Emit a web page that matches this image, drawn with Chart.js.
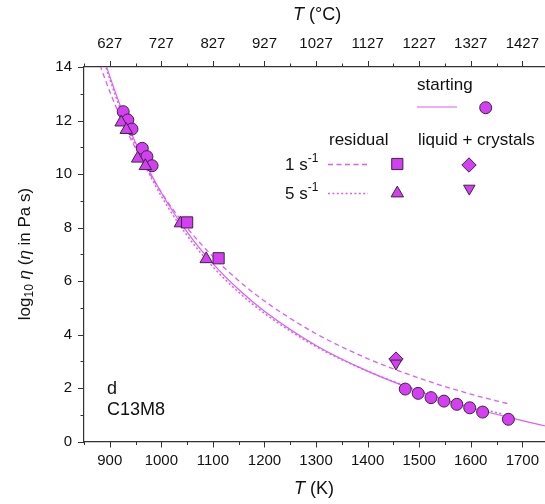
<!DOCTYPE html>
<html>
<head>
<meta charset="utf-8">
<script src="https://cdn.jsdelivr.net/npm/chart.js@4.4.1/dist/chart.umd.min.js"></script>
<style>
  html, body { margin: 0; padding: 0; background: #fff; overflow: hidden; }
  canvas { display: block; }
</style>
</head>
<body>
<canvas id="c" width="553" height="504" style="width:553px;height:504px"></canvas>
<script>
// ---- data: temperature in K, viscosity as log10(eta / Pa s) ----
const startT   = [926, 935, 943, 963, 972, 982, 1473, 1498, 1523, 1548, 1573, 1598, 1623, 1673];
const startLog = [12.33, 12.02, 11.68, 10.96, 10.65, 10.31, 1.96, 1.80, 1.64, 1.51, 1.39, 1.26, 1.10, 0.83];

const res1T   = [1050, 1111];               // residual liquid, 1 s^-1
const res1Log = [8.19, 6.85];
const res5T   = [922, 932, 954, 969, 1037, 1087];   // residual liquid, 5 s^-1
const res5Log = [11.93, 11.65, 10.58, 10.30, 8.16, 6.82];

const lc1T   = [1455];                      // liquid + crystals, 1 s^-1
const lc1Log = [3.08];
const lc5T   = [1455];                      // liquid + crystals, 5 s^-1
const lc5Log = [2.92];

// fitted viscosity curves
const fitStartT   = [885, 900, 925, 950, 1000, 1050, 1100, 1150, 1200, 1300, 1400, 1500, 1600, 1700, 1750];
const fitStartLog = [14.55, 13.65, 12.32, 11.17, 9.30, 7.83, 6.65, 5.68, 4.87, 3.59, 2.63, 1.87, 1.27, 0.78, 0.56];
const fit1T   = [870, 900, 925, 950, 1000, 1050, 1100, 1150, 1200, 1300, 1400, 1500, 1600, 1675];
const fit1Log = [14.67, 13.08, 11.95, 10.96, 9.31, 7.99, 6.91, 6.01, 5.25, 4.03, 3.10, 2.37, 1.77, 1.40];
const fit5T   = [885, 900, 925, 950, 1000, 1050, 1100, 1150, 1200, 1300, 1400, 1500, 1600, 1660];
const fit5Log = [14.45, 13.55, 12.20, 11.05, 9.17, 7.70, 6.53, 5.58, 4.79, 3.55, 2.63, 1.90, 1.32, 1.03];

// axes
const kTicks   = [900, 1000, 1100, 1200, 1300, 1400, 1500, 1600, 1700];
const kMinor   = [850, 950, 1050, 1150, 1250, 1350, 1450, 1550, 1650, 1750];
const logTicks = [0, 2, 4, 6, 8, 10, 12, 14];
const logMinor = [1, 3, 5, 7, 9, 11, 13];

// ---- styling ----
const FF = '"Liberation Sans", Arial, Helvetica, sans-serif';
const FILL = '#d43ff2';
const EDGE = '#3a2640';
const LINE = '#da5ef8';
const AXIS = '#333333';
const TXT = '#111111';
const DASH = [5, 3.5];
const DOT = [2, 2.4];

const pts = (xs, ys) => xs.map((x, i) => ({ x: x, y: ys[i] }));

function marker(data, style, radius, order, rotation) {
  return {
    type: 'scatter', data: data, xAxisID: 'x', yAxisID: 'y',
    pointStyle: style, pointRadius: radius, pointRotation: rotation || 0,
    backgroundColor: FILL, borderColor: EDGE, borderWidth: 1,
    pointHoverRadius: radius, order: order
  };
}
function curve(data, dash, width) {
  return {
    type: 'line', data: data, xAxisID: 'x', yAxisID: 'y',
    showLine: true, fill: false, pointRadius: 0, borderColor: LINE, borderWidth: width,
    borderDash: dash, cubicInterpolationMode: 'monotone', order: 10
  };
}

const MARK = {
  circle: { pointStyle: 'circle', radius: 6, rotation: 0 },
  square: { pointStyle: 'rect', radius: 7.9, rotation: 0 },
  tri:    { pointStyle: 'triangle', radius: 7.2, rotation: 0 },
  diam:   { pointStyle: 'rectRot', radius: 7.2, rotation: 0 },
  down:   { pointStyle: 'triangle', radius: 6.6, rotation: 180 }
};

function drawMark(ctx, m, x, y) {
  ctx.save();
  ctx.fillStyle = FILL; ctx.strokeStyle = EDGE; ctx.lineWidth = 1;
  Chart.helpers.drawPoint(ctx, { pointStyle: m.pointStyle, radius: m.radius, rotation: m.rotation, borderWidth: 1 }, x, y);
  ctx.restore();
}

// rich text: pieces of {t, font, dy}
function richWidth(ctx, pieces) {
  let w = 0;
  pieces.forEach(p => { ctx.font = p.font; w += ctx.measureText(p.t).width; });
  return w;
}
function drawRich(ctx, pieces, x, y) {
  let cx = x;
  pieces.forEach(p => {
    ctx.font = p.font;
    ctx.fillText(p.t, cx, y + (p.dy || 0));
    cx += ctx.measureText(p.t).width;
  });
}

const decor = {
  id: 'decor',
  afterDraw(chart) {
    const { ctx, chartArea: a, scales } = chart;
    const sx = scales.x, sy = scales.y;
    ctx.save();

    // tick marks (major + minor)
    ctx.strokeStyle = AXIS; ctx.lineWidth = 1;
    ctx.beginPath();
    const xt = (v, len) => {
      const px = Math.round(sx.getPixelForValue(v)) + 0.5;
      ctx.moveTo(px, a.bottom); ctx.lineTo(px, a.bottom + len);
      ctx.moveTo(px, a.top); ctx.lineTo(px, a.top - len);
    };
    kTicks.forEach(v => xt(v, 6));
    kMinor.forEach(v => xt(v, 3.5));
    const yt = (v, len) => {
      const py = Math.round(sy.getPixelForValue(v)) + 0.5;
      ctx.moveTo(a.left, py); ctx.lineTo(a.left - len, py);
    };
    logTicks.forEach(v => yt(v, 6));
    logMinor.forEach(v => yt(v, 3.5));
    ctx.stroke();

    ctx.fillStyle = TXT;
    ctx.textBaseline = 'middle';
    ctx.textAlign = 'left';
    const cxArea = (a.left + a.right) / 2;

    // axis titles
    const big = `18px ${FF}`, bigI = `italic 18px ${FF}`;
    const bottomT = [{ t: 'T', font: bigI }, { t: ' (K)', font: big }];
    drawRich(ctx, bottomT, cxArea - richWidth(ctx, bottomT) / 2 - 2, 489);
    const topT = [{ t: 'T', font: bigI }, { t: ' (°C)', font: big }];
    drawRich(ctx, topT, cxArea - richWidth(ctx, topT) / 2 + 1, 15);

    const f17 = `17px ${FF}`, f17i = `italic 17px ${FF}`, f12 = `12px ${FF}`;
    const yTitle = [
      { t: 'log', font: f17 }, { t: '10', font: f12, dy: 5 }, { t: ' ', font: f17 },
      { t: 'η', font: f17i }, { t: ' (', font: f17 }, { t: 'η', font: f17i },
      { t: ' in Pa s)', font: f17 }
    ];
    ctx.save();
    ctx.translate(25, 254);
    ctx.rotate(-Math.PI / 2);
    drawRich(ctx, yTitle, -richWidth(ctx, yTitle) / 2, 0);
    ctx.restore();

    // sample labels
    ctx.font = `18px ${FF}`;
    ctx.fillText('d', 107, 389);
    ctx.fillText('C13M8', 107, 410);

    // key
    ctx.font = f17;
    ctx.fillText('starting', 417, 85);
    ctx.fillText('residual', 329, 140);
    ctx.fillText('liquid + crystals', 418, 140);
    drawRich(ctx, [{ t: '1 s', font: f17 }, { t: '-1', font: f12, dy: -6 }], 285, 165);
    drawRich(ctx, [{ t: '5 s', font: f17 }, { t: '-1', font: f12, dy: -6 }], 285, 194);

    ctx.strokeStyle = LINE;
    const seg = (x1, x2, y, dash, w) => {
      ctx.lineWidth = w;
      ctx.setLineDash(dash); ctx.beginPath(); ctx.moveTo(x1, y); ctx.lineTo(x2, y); ctx.stroke();
    };
    seg(417, 457, 107, [], 1.2);
    seg(328, 368, 164.5, DASH, 1.3);
    seg(328, 368, 193.5, DOT, 1.5);
    ctx.setLineDash([]);

    drawMark(ctx, MARK.circle, 485.7, 107.7);
    drawMark(ctx, MARK.square, 397.3, 164);
    drawMark(ctx, MARK.diam, 469, 165);
    drawMark(ctx, MARK.tri, 397.3, 193.3);
    drawMark(ctx, MARK.down, 469.3, 188.5);

    ctx.restore();
  }
};

const tickFont = { family: FF, size: 15 };

new Chart(document.getElementById('c'), {
  type: 'scatter',
  data: {
    datasets: [
      curve(pts(fitStartT, fitStartLog), [], 1.2),
      curve(pts(fit1T, fit1Log), DASH, 1.3),
      curve(pts(fit5T, fit5Log), DOT, 1.5),
      marker(pts(startT, startLog), MARK.circle.pointStyle, MARK.circle.radius, 3),
      marker(pts(res5T, res5Log), MARK.tri.pointStyle, MARK.tri.radius, 2),
      marker(pts(res1T, res1Log), MARK.square.pointStyle, MARK.square.radius, 1),
      marker(pts(lc1T, lc1Log), MARK.diam.pointStyle, MARK.diam.radius, 5),
      marker(pts(lc5T, lc5Log), MARK.down.pointStyle, MARK.down.radius, 4, 180)
    ]
  },
  options: {
    responsive: false,
    devicePixelRatio: 1,
    animation: false,
    events: [],
    layout: { padding: 0, autoPadding: false },
    plugins: { legend: { display: false }, tooltip: { enabled: false } },
    scales: {
      x: {
        type: 'linear', position: 'bottom', min: 850, max: 1750,
        afterBuildTicks: s => { s.ticks = kTicks.map(v => ({ value: v })); },
        afterFit: s => { s.height = 62.5; },
        grid: { display: false, drawTicks: false },
        border: { display: true, color: AXIS, width: 1.2 },
        ticks: { font: tickFont, color: TXT, padding: 10, maxRotation: 0, callback: v => String(v) }
      },
      xTop: {
        type: 'linear', axis: 'x', position: 'top', min: 850, max: 1750,
        afterBuildTicks: s => { s.ticks = kTicks.map(v => ({ value: v })); },
        afterFit: s => { s.height = 67; },
        grid: { display: false, drawTicks: false },
        border: { display: true, color: AXIS, width: 1.2 },
        ticks: { font: tickFont, color: TXT, padding: 14, maxRotation: 0, callback: v => String(Math.round(v - 273.15)) }
      },
      y: {
        type: 'linear', position: 'left', min: 0, max: 14,
        afterBuildTicks: s => { s.ticks = logTicks.map(v => ({ value: v })); },
        afterFit: s => { s.width = 84; },
        grid: { display: false, drawTicks: false },
        border: { display: true, color: AXIS, width: 1.2 },
        ticks: { font: tickFont, color: TXT, padding: 12, callback: v => String(v) }
      }
    }
  },
  plugins: [decor]
});
</script>
</body>
</html>
